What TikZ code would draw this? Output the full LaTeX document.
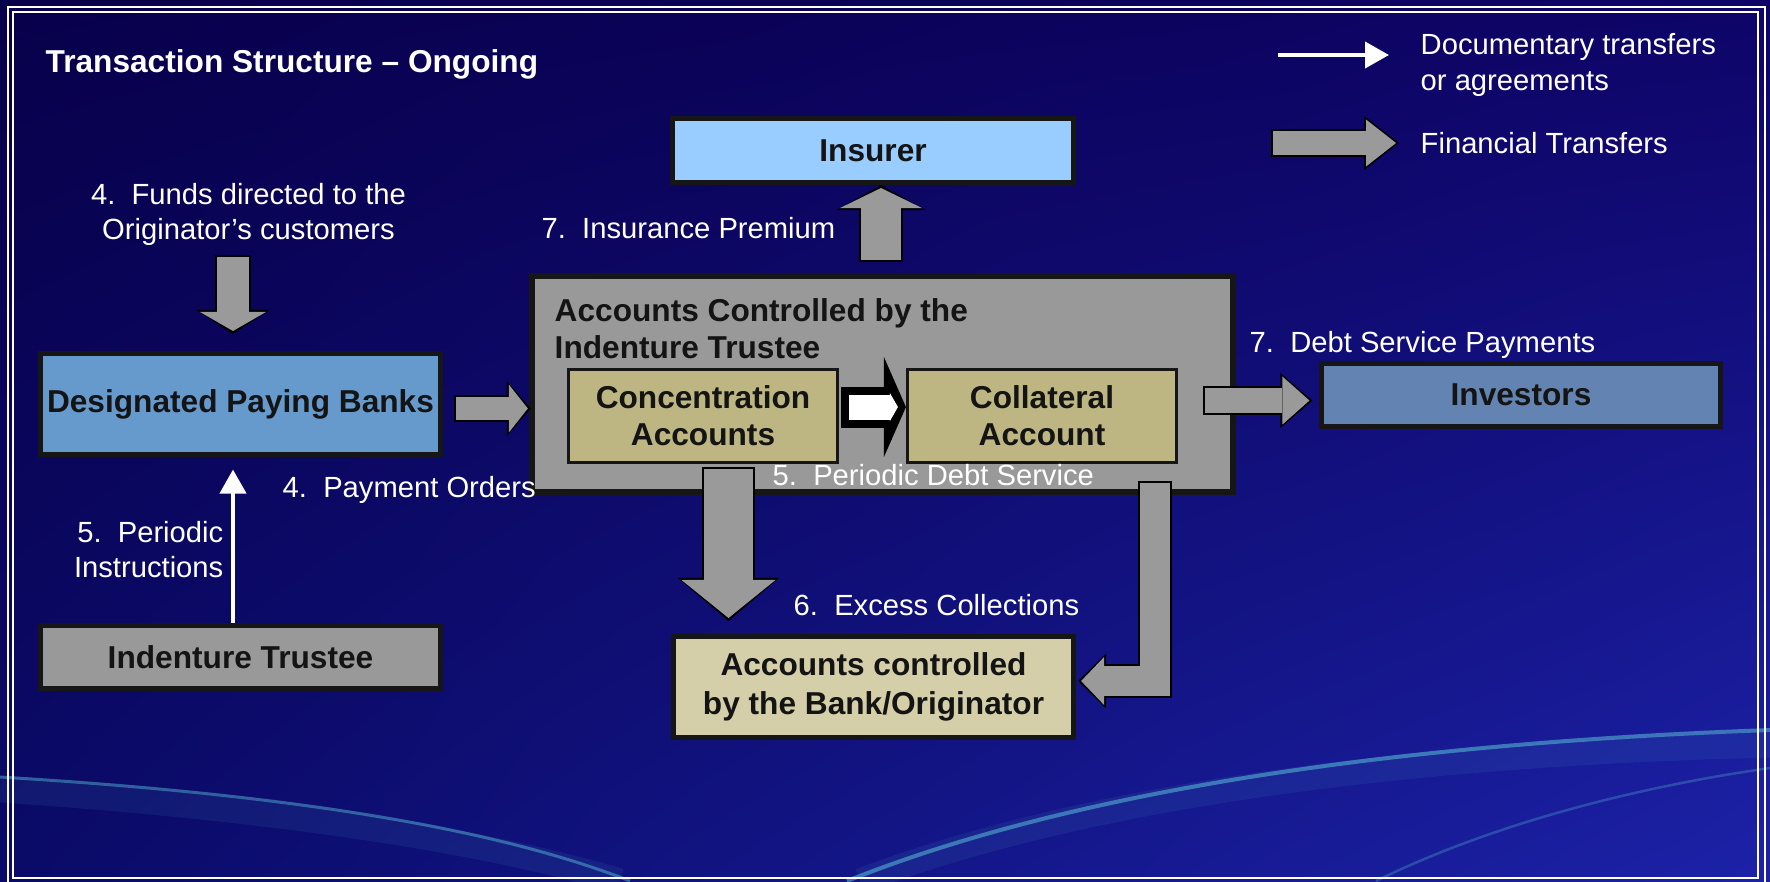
\documentclass[tikz,border=0pt]{standalone}
\usepackage{fontspec}
\setmainfont{Liberation Sans}
\usetikzlibrary{arrows.meta,calc,shadings}

\definecolor{bgul}{HTML}{08004A}
\definecolor{bgur}{HTML}{0E0468}
\definecolor{bgll}{HTML}{0A0A68}
\definecolor{bglr}{HTML}{1C22A8}
\definecolor{swoosh}{HTML}{4FA6CC}
\definecolor{finfill}{HTML}{9A9A9A}
\definecolor{boxline}{HTML}{161616}
\definecolor{boxtext}{HTML}{141414}
\definecolor{insblue}{HTML}{99CCFF}
\definecolor{bankblue}{HTML}{6699CC}
\definecolor{invblue}{HTML}{6384B2}
\definecolor{trustgray}{HTML}{999999}
\definecolor{acctkhaki}{HTML}{BDB682}
\definecolor{origkhaki}{HTML}{D4CFA8}

\newcommand{\boxfont}{\fontsize{9}{10.6}\selectfont\bfseries}
\newcommand{\lblfont}{\fontsize{8.3}{10}\selectfont}

\begin{document}
\begin{tikzpicture}[
    x=0.01cm, y=-0.01cm,
    box/.style={draw=boxline, line width=0.05cm, inner sep=0pt, align=center, font=\boxfont, text=boxtext},
    lbl/.style={inner sep=0pt, font=\lblfont, text=white},
    doc/.style={draw=white, line width=0.04cm, -{Triangle[width=0.26cm, length=0.24cm]}},
    fin/.style n args={3}{
        /utils/exec={\pgfmathsetmacro\finS{#1/100}\pgfmathsetmacro\finW{#2/100}\pgfmathsetmacro\finL{#3/100}%
            \pgfmathsetmacro\finSo{(#1+4)/100}\pgfmathsetmacro\finWo{(#2+7)/100}\pgfmathsetmacro\finLo{(#3+5)/100}},
        draw=finfill, line width=\finS cm, shorten >=0.03cm,
        -{Triangle[width=\finW cm, length=\finL cm, line width=0pt, fill=finfill, color=finfill]},
        preaction={draw=black, line width=\finSo cm, shorten >=0pt, shorten <=-0.02cm,
            -{Triangle[width=\finWo cm, length=\finLo cm, line width=0pt, fill=black, color=black]}}
    },
    keyfin/.style={draw=white, line width=0.25cm, shorten >=0.08cm,
        -{Triangle[width=0.28cm, length=0.08cm, line width=0pt, fill=white, color=white]},
        preaction={draw=black, line width=0.41cm, shorten >=0pt, shorten <=-0.08cm,
            -{Triangle[width=1.0cm, length=0.22cm, line width=0pt, fill=black, color=black]}}}
]
    % background and frame
    \useasboundingbox (0,0) rectangle (1770,881);
    \shade[upper left=bgul, upper right=bgur, lower left=bgll, lower right=bglr] (0,0) rectangle (1770,881);
    \draw[swoosh, line width=0.25cm, opacity=0.10] (0,790) .. controls (300,810) and (500,845) .. (620,881);
    \draw[swoosh, line width=0.03cm, opacity=0.55] (0,777) .. controls (300,795) and (500,830) .. (630,881);
    \draw[swoosh, line width=0.25cm, opacity=0.10] (860,881) .. controls (1060,805) and (1360,755) .. (1770,745);
    \draw[swoosh, line width=0.04cm, opacity=0.65] (847,881) .. controls (1050,800) and (1350,745) .. (1770,730);
    \draw[swoosh, line width=0.025cm, opacity=0.35] (1376,881) .. controls (1500,820) and (1650,785) .. (1770,768);
    \draw[white, line width=0.02cm] (8,7) rectangle (1765,886);
    \draw[white, line width=0.02cm] (13,12) rectangle (1758,878);

    \node[anchor=base west, inner sep=0pt, font=\fontsize{9}{11}\selectfont\bfseries, text=white] (title) at (45,72) {Transaction Structure – Ongoing};

    % boxes
    \node[box, fill=insblue, minimum width=4.01cm, minimum height=0.64cm] (ins) at (873,150.5) {Insurer};
    \node[box, fill=trustgray, line width=0.06cm, minimum width=7.01cm, minimum height=2.16cm] (main) at (882.5,384) {};
    \node[anchor=west, inner sep=0pt, align=left, font=\boxfont, text=boxtext] (mainlbl) at (554,328.5) {Accounts Controlled by the\\Indenture Trustee};
    \node[box, fill=acctkhaki, line width=0.03cm, minimum width=2.69cm, minimum height=0.93cm] (conc) at (703,416) {Concentration\\Accounts};
    \node[box, fill=acctkhaki, line width=0.03cm, minimum width=2.69cm, minimum height=0.93cm] (coll) at (1042,416) {Collateral\\Account};
    \node[box, fill=origkhaki, minimum width=4cm, minimum height=1cm, font=\fontsize{9}{11.2}\selectfont\bfseries] (boo) at (873.5,687) {Accounts controlled\\by the Bank/Originator};
    \node[box, fill=bankblue, minimum width=4cm, minimum height=1.01cm] (dpb) at (240.5,404) {Designated Paying Banks};
    \node[box, fill=trustgray, minimum width=4cm, minimum height=0.63cm] (it) at (240.5,657) {Indenture Trustee};
    \node[box, fill=invblue, minimum width=3.99cm, minimum height=0.63cm] (inv) at (1521,395) {Investors};

    % legend
    \coordinate (docA) at (1278,55);
    \coordinate (docB) at (1389,55);
    \draw[doc] (docA) -- (docB);
    \coordinate (finA) at (1273,143);
    \coordinate (finB) at (1399,143);
    \draw[fin={24}{47}{30}] (finA) -- (finB);

    % transfers
    \coordinate (fundsin) at (233,257);
    \draw[fin={32}{66}{19}] (fundsin) -- ($(fundsin |- dpb.north)+(0,-17)$);
    \draw[fin={23}{48}{19}] ($(dpb.east)+(13,4.5)$) -- ($(dpb.east -| main.west)+(2,4.5)$);
    \draw[fin={40}{82}{20}] ($(main.north)+(-1.5,-13)$) -- ($(main.north |- ins.south)+(-1.5,0)$);
    \draw[keyfin] ($(conc.east)+(10,-9)$) -- ($(coll.west)+(0,-9)$);
    \draw[fin={49}{94}{38}] ($(conc.south)+(25.5,4.5)$) -- ($(conc.south |- boo.north)+(25.5,-13.5)$);
    \draw[fin={25}{48}{27}] ($(coll.east)+(26.5,-15.5)$) -- ($(inv.west)+(-6.5,5.5)$);
    \draw[fin={30}{48}{23}] ($(coll.south)+(112.5,18.5)$) |- ($(boo.east)+(2,-6)$);
    \draw[doc] ($(it.north)+(-7.5,0)$) -- ($(dpb.south)+(-7.5,12.5)$);

    % labels
    \node[lbl, anchor=west, align=left] (doclbl) at (1420,65) {Documentary transfers\\or agreements};
    \node[lbl, anchor=west] (finlbl) at (1420,143) {Financial Transfers};
    \node[lbl, align=center] (funds) at (248.5,214.5) {4.\ \ Funds directed to the\\Originator’s customers};
    \node[lbl, anchor=east] (premium) at (836,228) {7.\ \ Insurance Premium};
    \node[lbl, anchor=west] (pds) at (772,475) {5.\ \ Periodic Debt Service};
    \node[lbl, anchor=west] (excess) at (793,605) {6.\ \ Excess Collections};
    \node[lbl, anchor=west] (payord) at (282,490) {4.\ \ Payment Orders};
    \node[lbl, anchor=east, align=right] (periodic) at (224,549.5) {5.\ \ Periodic\\Instructions};
    \node[lbl, anchor=west] (debtsvc) at (1249,345) {7.\ \ Debt Service Payments};
\end{tikzpicture}
\end{document}
